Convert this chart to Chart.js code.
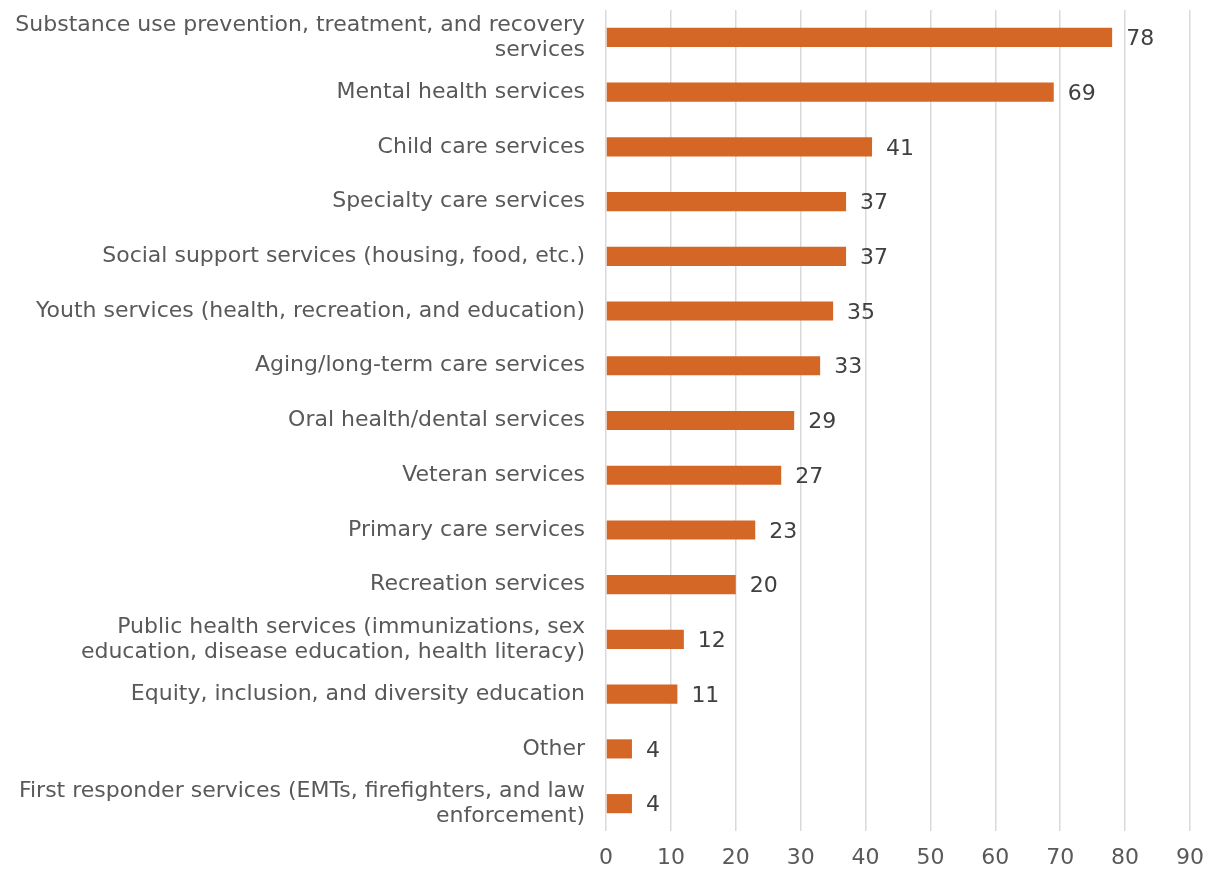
<!DOCTYPE html>
<html>
<head>
<meta charset="utf-8">
<script src="https://cdn.jsdelivr.net/npm/chart.js@4"></script>
<style>
  html, body { margin: 0; padding: 0; background: #ffffff; }
  #wrap { width: 1211px; height: 873px; }
</style>
</head>
<body>
<div id="wrap"><canvas id="chart" width="1211" height="873"></canvas></div>
<script>
// Service categories (multi-line where the label wraps)
const categories = [
  ["Substance use prevention, treatment, and recovery", "services"],
  "Mental health services",
  "Child care services",
  "Specialty care services",
  "Social support services (housing, food, etc.)",
  "Youth services (health, recreation, and education)",
  "Aging/long-term care services",
  "Oral health/dental services",
  "Veteran services",
  "Primary care services",
  "Recreation services",
  ["Public health services (immunizations, sex", "education, disease education, health literacy)"],
  "Equity, inclusion, and diversity education",
  "Other",
  ["First responder services (EMTs, firefighters, and law", "enforcement)"]
];
const counts = [78, 69, 41, 37, 37, 35, 33, 29, 27, 23, 20, 12, 11, 4, 4];
const xTicks = [0, 10, 20, 30, 40, 50, 60, 70, 80, 90];

const FONT = "'DejaVu Sans', Verdana, sans-serif";
const SIZE = 22;
const TEXT = "#595959";

// Writes each bar's value just past its end
const valueLabels = {
  id: "valueLabels",
  afterDatasetsDraw(chart) {
    const ctx = chart.ctx;
    const meta = chart.getDatasetMeta(0);
    ctx.save();
    ctx.font = SIZE + "px " + FONT;
    ctx.fillStyle = "#404040";
    ctx.textAlign = "left";
    ctx.textBaseline = "middle";
    meta.data.forEach((bar, i) => {
      ctx.fillText(String(counts[i]), bar.x + 14, bar.y + 2);
    });
    ctx.restore();
  }
};

new Chart(document.getElementById("chart"), {
  type: "bar",
  data: {
    labels: categories,
    datasets: [{
      data: counts,
      backgroundColor: "#D56726",
      borderWidth: 0,
      barPercentage: 0.7,
      categoryPercentage: 0.5
    }]
  },
  options: {
    indexAxis: "y",
    responsive: false,
    animation: false,
    events: [],
    layout: { padding: { top: 10, right: 21, bottom: 0, left: 0 } },
    plugins: { legend: { display: false }, tooltip: { enabled: false } },
    scales: {
      x: {
        min: 0,
        max: 90,
        afterBuildTicks(scale) { scale.ticks = xTicks.map(v => ({ value: v })); },
        afterFit(scale) { scale.paddingLeft = 0; scale.paddingRight = 0; scale.height = 42; },
        grid: { color: "#d9d9d9", lineWidth: 1.5, drawTicks: false },
        border: { display: false },
        ticks: { color: TEXT, font: { family: FONT, size: SIZE }, padding: 14 }
      },
      y: {
        afterFit(scale) { scale.width = 606; scale.paddingTop = 0; scale.paddingBottom = 0; },
        grid: { display: false, drawTicks: false },
        border: { display: false },
        ticks: { color: TEXT, font: { family: FONT, size: SIZE, lineHeight: 1.14 }, padding: 21, autoSkip: false }
      }
    }
  },
  plugins: [valueLabels]
});
</script>
</body>
</html>
